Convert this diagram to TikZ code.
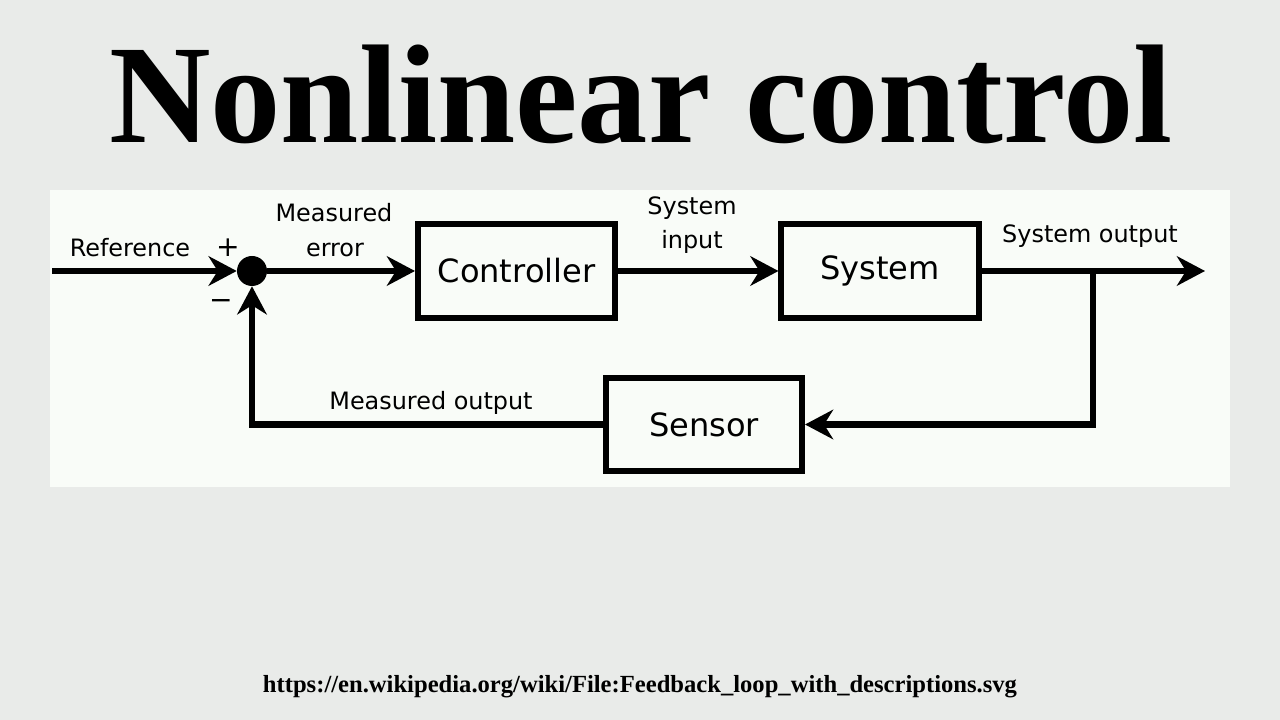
\documentclass[tikz,border=0pt]{standalone}
\usepackage{fontspec}
\setmainfont{DejaVu Sans}
\newfontfamily\titlefont{Liberation Serif}
\usetikzlibrary{arrows.meta}
\definecolor{bgcol}{HTML}{E9EBE9}
\definecolor{panelcol}{HTML}{F9FCF8}

\begin{document}
\begin{tikzpicture}[x=0.025cm,y=-0.025cm,
        arr/.style={line width=0.15cm,-{Stealth[length=20pt,width=21pt,inset=6.5pt]}},
        blk/.style={draw,line width=0.15cm,rectangle,inner sep=0pt,minimum width=4.925cm,minimum height=2.34cm,font=\fontsize{22.8}{26}\selectfont},
        lbl/.style={anchor=base,inner sep=0pt,font=\fontsize{17}{20}\selectfont},
        sgn/.style={inner sep=0pt,font=\fontsize{20}{22}\selectfont}]
            \fill[bgcol] (0,0) rectangle (1280,720);
            \fill[panelcol] (50,190) rectangle (1230,487);

            \node[anchor=base,inner sep=0pt,font=\titlefont\bfseries\fontsize{100}{100}\selectfont] (title) at (641,143) {Nonlinear control};
            \node[anchor=base,inner sep=0pt,font=\titlefont\bfseries\fontsize{17.5}{20}\selectfont] (url) at (640,692) {https://en.wikipedia.org/wiki/File:Feedback\_loop\_with\_descriptions.svg};

            \node[circle,fill,inner sep=0pt,minimum size=0.75cm] (sum) at (252,271) {};
            \node[blk] (ctrl) at (516.5,271) {Controller};
            \node[blk] (sys) at (880,271) {System};
            \node[blk,minimum width=4.9cm,minimum height=2.3cm] (sens) at (704,424.5) {Sensor};

            \coordinate (ref) at (52,271);
            \coordinate (out) at (1205,271);
            \coordinate (branch) at (1093,271);

            \draw[arr] (ref) -- (sum);
            \draw[arr] (sum) -- (ctrl);
            \draw[arr] (ctrl) -- (sys);
            \draw[arr] (sys) -- (out);
            \draw[arr] (branch) |- (sens);
            \draw[arr] (sens) -| (sum);

            \node[lbl] (reflbl) at (130,257) {Reference};
            \node[sgn] (plus) at (228,248) {+};
            \node[sgn] (minus) at (221,305) {−};
            \node[lbl] (errlbla) at (334,222) {Measured};
            \node[lbl] (errlblb) at (335,257) {error};
            \node[lbl] (inlbla) at (692,215) {System};
            \node[lbl] (inlblb) at (692,249) {input};
            \node[lbl] (outlbl) at (1090,243) {System output};
            \node[lbl] (moutlbl) at (431,409) {Measured output};
        \end{tikzpicture}
\end{document}
